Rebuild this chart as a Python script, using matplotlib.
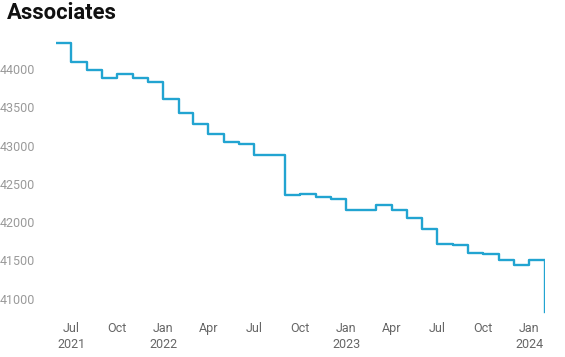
import numpy as np
import pandas as pd
import matplotlib
matplotlib.use("Agg")
import matplotlib.pyplot as plt
import matplotlib.dates as mdates
from matplotlib.ticker import FuncFormatter

# monthly associate head count, Jun 2021 .. Feb 2024
months = pd.date_range("2021-06-01", "2024-02-01", freq="MS")
associates = [
    44343, 44095, 43983, 43879, 43935, 43879, 43834,                  # 2021
    43606, 43422, 43286, 43152, 43047, 43021, 42878, 42878,
    42356, 42369, 42333, 42299,                                       # 2022
    42160, 42160, 42229, 42164, 42050, 41908, 41720, 41703,
    41603, 41590, 41508, 41442,                                       # 2023
    41511, 40820,                                                     # 2024
]
y_ticks = [41000, 41500, 42000, 42500, 43000, 43500, 44000]

plt.rcParams["font.family"] = ["Roboto", "DejaVu Sans"]

fig = plt.figure(figsize=(5.65, 3.57), dpi=100)
ax = fig.add_axes([56 / 565, 1 - 316 / 357, (545 - 56) / 565, (316 - 40) / 357])

ax.plot(months, associates, drawstyle="steps-post", color="#22a4d1", lw=1.7)

ax.set_xlim(months[0], months[-1])
ax.set_ylim(40774, 44379)
ax.set_yticks(y_ticks)
ax.tick_params(axis="y", length=0, pad=15, labelsize=9, labelcolor="#9a9a9a")
ax.tick_params(axis="x", length=0, pad=4, labelsize=9, labelcolor="#666666")

ax.xaxis.set_major_locator(mdates.MonthLocator(bymonth=[1, 4, 7, 10]))


def fmt_date(x, pos):
    d = mdates.num2date(x)
    lab = d.strftime("%b")
    if d.month == 1 or pos == 0:
        lab += "\n" + str(d.year)
    return lab


ax.xaxis.set_major_formatter(FuncFormatter(fmt_date))
for lab in ax.get_xticklabels():
    lab.set_linespacing(1.3)

for s in ax.spines.values():
    s.set_visible(False)

fig.text(7 / 565, 1 - 2 / 357, "Associates", fontsize=15.8, fontweight="bold",
         ha="left", va="top", color="#111111")

fig.savefig("out.png", dpi=100)
